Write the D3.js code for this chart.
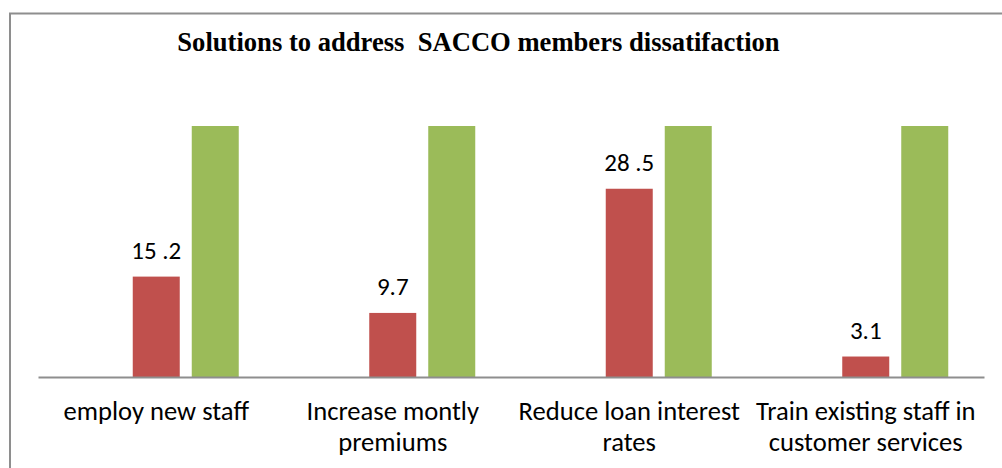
<!DOCTYPE html>
<html>
<head>
<meta charset="utf-8">
<script src="https://cdn.jsdelivr.net/npm/d3@7"></script>
<style>
  html, body { margin: 0; padding: 0; background: #fff; }
  svg { display: block; }
</style>
</head>
<body>
<svg id="chart" width="1002" height="468"></svg>
<script>
// Survey responses per proposed solution
const categories = [
  ["employ new staff"],
  ["Increase montly", "premiums"],
  ["Reduce loan interest", "rates"],
  ["Train existing staff in", "customer services"]
];
const seriesNames = ["Series1", "Series2", "Series3"];
const series1 = [0, 0, 0, 0];
const series2 = [15.2, 9.7, 28.5, 3.1];
const series2Labels = ["15 .2", "9.7", "28 .5", "3.1"];
const series3 = [38, 38, 38, 38];
const yMax = 38;

const colors = ["#4f81bd", "#c0504d", "#9bbb59"];
const seriesValues = [series1, series2, series3];

const svg = d3.select("#chart");
const W = 1002, H = 468;
const plot = { left: 38, right: 984, top: 126, bottom: 377 };
const labelFont = "Carlito, Lato, sans-serif";

// chart frame (top and left edges visible)
svg.append("path")
  .attr("d", `M10,${H} L10,13.5 L${W},13.5`)
  .attr("fill", "none")
  .attr("stroke", "#8e8e8e")
  .attr("stroke-width", 2);

svg.append("text")
  .attr("x", 478.5)
  .attr("y", 51)
  .attr("text-anchor", "middle")
  .attr("font-family", "'Liberation Serif', 'Times New Roman', serif")
  .attr("font-weight", "bold")
  .attr("font-size", 26.6)
  .style("white-space", "pre")
  .text("Solutions to address  SACCO members dissatifaction");

const x0 = d3.scaleBand()
  .domain(d3.range(categories.length))
  .range([plot.left, plot.right])
  .paddingInner(0)
  .paddingOuter(0);

// clustered group: three series, bars 47px wide with 12px gaps
const groupW = 165;
const x1 = d3.scaleBand()
  .domain(seriesNames)
  .range([0, groupW])
  .paddingInner(12 / 59);

const y = d3.scaleLinear().domain([0, yMax]).range([plot.bottom, plot.top]);

const groups = svg.append("g").selectAll("g")
  .data(categories)
  .join("g")
  .attr("transform", (d, i) => `translate(${x0(i) + (x0.bandwidth() - groupW) / 2},0)`);

seriesNames.forEach((name, s) => {
  groups.append("rect")
    .attr("x", x1(name))
    .attr("width", x1.bandwidth())
    .attr("y", (d, i) => y(seriesValues[s][i]))
    .attr("height", (d, i) => y(0) - y(seriesValues[s][i]))
    .attr("fill", colors[s]);
});

// value labels on the second series
groups.append("text")
  .attr("x", x1("Series2") + x1.bandwidth() / 2)
  .attr("y", (d, i) => y(series2[i]) - 18)
  .attr("text-anchor", "middle")
  .attr("font-family", labelFont)
  .attr("font-size", 25)
  .attr("fill", "#000")
  .text((d, i) => series2Labels[i]);

// category axis line
const xAxis = d3.axisBottom(x0).tickSize(0).tickFormat("");
const axisG = svg.append("g")
  .attr("transform", `translate(0,${plot.bottom})`)
  .call(xAxis);
axisG.select(".domain").attr("stroke", "#8e8e8e").attr("stroke-width", 2);

// category labels, wrapped over two lines
const catText = svg.append("g").selectAll("text")
  .data(categories)
  .join("text")
  .attr("text-anchor", "middle")
  .attr("font-family", labelFont)
  .attr("font-size", 26.6)
  .attr("fill", "#000");
catText.each(function(lines, i) {
  const t = d3.select(this);
  lines.forEach((line, k) => {
    t.append("tspan")
      .attr("x", x0(i) + x0.bandwidth() / 2)
      .attr("y", 420 + k * 31)
      .text(line);
  });
});
</script>
</body>
</html>
